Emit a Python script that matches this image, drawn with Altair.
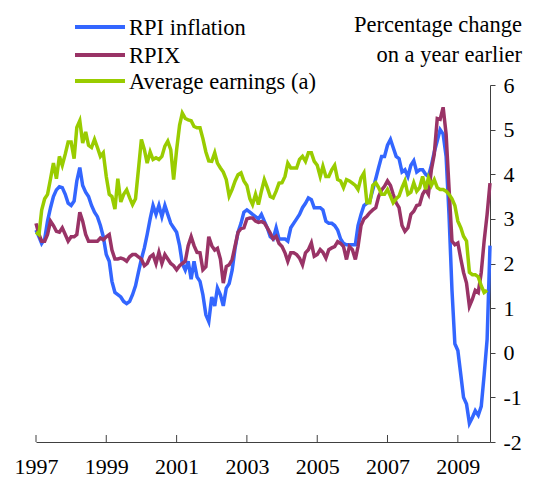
import altair as alt
import pandas as pd

# Monthly data, Jan 1997 - Dec 2009 (percentage change on a year earlier)
rpi = [
    2.75, 2.6, 2.45, 2.55, 2.95, 3.25, 3.5, 3.65, 3.72, 3.7, 3.55, 3.35,
    3.3, 3.4, 3.85, 4.15, 3.75, 3.6, 3.5, 3.3, 3.15, 3.05, 2.85, 2.6,
    2.2, 2.05, 1.6, 1.35, 1.3, 1.25, 1.15, 1.1, 1.15, 1.3, 1.5, 1.8,
    2.1, 2.35, 2.65, 3.0, 3.3, 3.1, 3.3, 3.05, 3.3, 3.1, 2.9, 2.8,
    2.7, 2.4, 2.0, 1.85, 2.05, 1.65, 2.05, 1.7, 1.6, 1.3, 0.85, 0.7,
    1.25, 1.05, 1.45, 1.3, 1.05, 1.45, 1.55, 1.85, 2.35, 2.7, 2.9, 3.15,
    3.2, 3.15, 3.1, 3.05, 3.0, 3.1, 2.95, 2.8, 2.6, 2.55, 2.8, 2.55,
    2.55, 2.55, 2.5, 2.8, 2.9, 3.0, 3.1, 3.25, 3.35, 3.47, 3.43, 3.25,
    3.25, 3.25, 3.2, 2.95, 2.9, 2.9, 2.85, 2.75, 2.55, 2.45, 2.42, 2.42,
    2.42, 2.42, 2.85, 3.1, 3.3, 3.35, 3.4, 3.65, 3.9, 4.15, 4.4, 4.4,
    4.65, 4.78, 4.6, 4.4, 4.35, 4.05, 4.1, 3.95, 4.2, 4.3, 4.05, 4.1,
    4.1, 4.0, 3.95, 4.2, 4.5, 4.75, 5.0, 4.9, 4.4, 3.1, 1.4, 0.2,
    0.05, -0.5, -1.0, -1.15, -1.58, -1.45, -1.3, -1.4, -1.2, -0.5, 0.3, 2.4,
]
rpix = [
    2.9, 2.65, 2.5, 2.5, 2.65, 2.95, 2.85, 2.72, 2.7, 2.8, 2.65, 2.5,
    2.6, 2.6, 2.65, 3.15, 2.95, 2.65, 2.5, 2.5, 2.5, 2.5, 2.57, 2.53,
    2.6, 2.65, 2.3, 2.1, 2.1, 2.12, 2.1, 2.05, 2.15, 2.2, 2.2, 2.15,
    2.1, 1.95, 2.0, 2.15, 2.2, 2.0, 2.25, 2.0, 2.2, 2.1, 2.0, 1.95,
    1.86, 1.95, 2.0, 2.05, 2.4, 2.6, 2.4, 2.25, 2.24, 1.86, 1.93, 2.6,
    2.4, 2.3, 2.34, 2.1, 1.56, 1.93, 1.97, 2.09, 2.4, 2.7, 2.78, 2.8,
    3.0, 3.02, 3.02, 2.95, 2.92, 2.94, 2.91, 2.8, 2.68, 2.55, 2.61, 2.45,
    2.38, 2.24, 2.05, 2.24, 2.24, 2.2, 2.12, 1.97, 2.24, 2.31, 2.46, 2.16,
    2.2, 2.31, 2.25, 2.12, 2.31, 2.35, 2.38, 2.49, 2.45, 2.38, 2.09, 2.38,
    2.31, 2.09, 2.38, 2.85, 3.0, 3.06, 3.14, 3.2, 3.25, 3.5, 3.65, 3.73,
    3.85, 3.75, 3.55, 3.36, 3.25, 2.85, 2.72, 2.8, 3.1, 3.17, 3.3, 3.32,
    3.55, 3.66, 3.55, 4.1, 4.45, 5.25, 5.23, 5.5, 4.9, 3.7, 2.5, 2.42,
    2.46, 2.1, 1.8, 1.56, 1.04, 1.2, 1.4, 1.35, 1.8, 2.5, 3.1, 3.8,
]
earnings = [
    2.7, 2.65, 3.2, 3.45, 3.55, 3.9, 4.25, 3.9, 4.4, 4.2, 4.45, 4.72,
    4.72, 4.35, 5.05, 5.2, 4.7, 4.95, 4.65, 4.6, 4.78, 4.6, 4.4, 4.48,
    3.95, 3.55, 3.5, 3.22, 3.9, 3.38, 3.55, 3.65, 3.47, 3.32, 3.45, 4.1,
    4.78, 4.55, 4.25, 4.5, 4.33, 4.37, 4.33, 4.4, 4.63, 4.74, 4.55, 3.88,
    4.55, 5.1, 5.37, 5.25, 5.22, 5.2, 5.07, 5.04, 5.04, 4.8, 4.5, 4.3,
    4.29, 4.48, 4.25, 4.14, 4.05, 3.88, 3.51, 3.66, 3.85, 3.99, 4.03, 3.85,
    3.75, 3.45, 3.32, 3.55, 3.32, 3.62, 3.88, 3.7, 3.5, 3.47, 3.62, 3.8,
    3.81, 3.95, 4.25, 4.14, 4.14, 4.14, 4.33, 4.4, 4.29, 4.48, 4.48, 4.29,
    4.2, 3.95, 4.18, 3.95, 3.95, 4.1, 4.2, 3.88, 3.85, 3.7, 3.88, 3.85,
    3.8, 3.75, 3.66, 3.92, 4.03, 3.36, 3.36, 3.75, 3.81, 3.7, 3.55, 3.55,
    3.66, 3.51, 3.36, 3.45, 3.51, 3.7, 3.85, 3.55, 3.6, 3.81, 3.62, 3.7,
    3.95, 3.66, 3.92, 3.75, 3.88, 3.7, 3.66, 3.66, 3.62, 3.55, 3.45, 3.3,
    2.95, 2.8, 2.61, 2.5, 1.8, 1.75, 1.75, 1.7, 1.5, 1.35, 1.4, None,
]

series_names = ["RPI inflation", "RPIX", "Average earnings (a)"]
series_colors = ["#3366ff", "#993366", "#99cc00"]
tick_years = [1997, 1999, 2001, 2003, 2005, 2007, 2009]
y_ticks = [-2, -1, 0, 1, 2, 3, 4, 5, 6]
title_lines = ["Percentage change", "on a year earlier"]

months = pd.date_range("1997-01-01", "2009-12-01", freq="MS")
frames = []
for name, vals in zip(series_names, [rpi, rpix, earnings]):
    frames.append(pd.DataFrame({"date": months, "series": name, "value": vals}))
df = pd.concat(frames).dropna().reset_index(drop=True)
df["date"] = df["date"].dt.strftime("%Y-%m-%d")

ticks_df = pd.DataFrame({"date": [f"{y}-01-01" for y in tick_years]})

FONT = "Times"
AXIS_COLOR = "#404040"
W, H = 454, 357

x_scale = alt.Scale(domain=[alt.DateTime(year=1997, month=1, date=1),
                            alt.DateTime(year=2009, month=12, date=1)])
y_scale = alt.Scale(domain=[-2, 6], nice=False)
color_scale = alt.Scale(domain=series_names, range=series_colors)

x_axis = alt.Axis(
    values=[alt.DateTime(year=y, month=1, date=1) for y in tick_years],
    format="%Y", title=None, grid=False, ticks=False, labelPadding=14,
    labelFlush=False, labelOverlap=False,
)

lines = alt.Chart(df).mark_line(strokeWidth=3.5).encode(
    x=alt.X("date:T", scale=x_scale, axis=x_axis),
    y=alt.Y(
        "value:Q", scale=y_scale,
        axis=alt.Axis(
            orient="right", values=y_ticks, title=None, grid=False,
            tickSize=5, labelPadding=8,
            labelExpr="datum.value < 0 ? '-' + abs(datum.value) : '' + datum.value",
        ),
    ),
    color=alt.Color("series:N", scale=color_scale, legend=None),
)

tick_rules = alt.Chart(ticks_df).mark_rule(color=AXIS_COLOR, strokeWidth=1).encode(
    x=alt.X("date:T", scale=x_scale, axis=x_axis),
    y=alt.value(H), y2=alt.value(H - 7),
)

# legend (drawn as marks, one row per series)
legend_layers = []
row_y = [-58, -30, -4]
for name, color, ry in zip(series_names, series_colors, row_y):
    ldf = pd.DataFrame({"series": [name]})
    legend_layers.append(
        alt.Chart(ldf).mark_rule(strokeWidth=4, color=color).encode(
            x=alt.value(39), x2=alt.value(89), y=alt.value(ry)
        )
    )
    legend_layers.append(
        alt.Chart(ldf).mark_text(
            align="left", baseline="middle", font=FONT, fontSize=22.5, color="black"
        ).encode(text="series:N", x=alt.value(93), y=alt.value(ry + 1))
    )

title1 = alt.Chart(pd.DataFrame({"t": [title_lines[0]]})).mark_text(
    align="right", baseline="alphabetic", font=FONT, fontSize=22.5, color="black"
).encode(text="t:N", x=alt.value(486), y=alt.value(-53))
title2 = alt.Chart(pd.DataFrame({"t": [title_lines[1]]})).mark_text(
    align="right", baseline="alphabetic", font=FONT, fontSize=22.5, color="black"
).encode(text="t:N", x=alt.value(486), y=alt.value(-23))

chart = alt.layer(lines, tick_rules, *legend_layers, title1, title2).properties(
    width=W, height=H,
    autosize=alt.AutoSizeParams(type="none"),
    padding={"left": 28, "top": 77, "right": 36, "bottom": 36},
).configure_view(stroke=None).configure_axis(
    labelFont=FONT, labelFontSize=22, labelColor="black",
    domainColor=AXIS_COLOR, tickColor=AXIS_COLOR,
)

chart.save("out.html", embed_options={"renderer": "svg", "actions": False})
